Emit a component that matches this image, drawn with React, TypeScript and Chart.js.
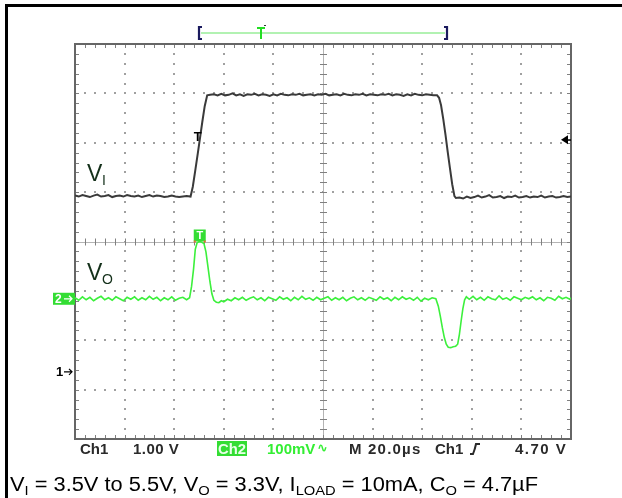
import React, { useEffect, useRef } from "react";
import { Chart, registerables } from "chart.js";

Chart.register(...registerables);

// ---- Data (time in µs, Ch1 in volts, Ch2 in mV) ----
const viTimeUs = [
  0, 1.5, 3, 4.5, 6, 7.5, 9, 10.5, 12, 13.5, 15, 16.5, 18, 19.5, 21, 22.5, 24, 25.5, 27, 28.5, 30,
  31.5, 33, 34.5, 36, 37.5, 39, 40.5, 42, 43.5, 45, 46.6,
  47.5, 48.5, 49.5, 50.3, 51.3, 52.3, 53.3,
  54.5, 56, 57.5, 59, 60.5, 62, 63.5, 65, 66.5, 68, 69.5, 71, 72.5, 74, 75.5, 77, 78.5, 80, 81.5,
  83, 84.5, 86, 87.5, 89, 90.5, 92, 93.5, 95, 96.5, 98, 99.5, 101, 102.5, 104, 105.5, 107, 108.5,
  110, 111.5, 113, 114.5, 116, 117.5, 119, 120.5, 122, 123.5, 125, 126.5, 128, 129.5, 131, 132.5,
  134, 135.5, 137, 138.5, 140, 141.5, 143, 144.5, 146,
  146.8, 147.6, 148.5, 149.4, 150.3, 151.2, 152.1, 153, 153.6,
  155, 156.5, 158, 159.5, 161, 162.5, 164, 165.5, 167, 168.5, 170, 171.5, 173, 174.5, 176, 177.5,
  179, 180.5, 182, 183.5, 185, 186.5, 188, 189.5, 191, 192.5, 194, 195.5, 197, 198.5, 200,
];
const viVolts = [
  3.57, 3.55, 3.58, 3.56, 3.54, 3.57, 3.59, 3.55, 3.56, 3.58, 3.54, 3.56, 3.57, 3.55, 3.58, 3.56,
  3.55, 3.57, 3.54, 3.56, 3.58, 3.55, 3.57, 3.56, 3.54, 3.55, 3.57, 3.55, 3.54, 3.55, 3.56, 3.55,
  3.75, 4.08, 4.42, 4.7, 5.05, 5.38, 5.6,
  5.61, 5.62, 5.6, 5.63, 5.6, 5.61, 5.64, 5.6, 5.62, 5.59, 5.62, 5.61, 5.63, 5.6, 5.62, 5.61, 5.59,
  5.62, 5.6, 5.63, 5.61, 5.6, 5.62, 5.61, 5.63, 5.6, 5.61, 5.62, 5.6, 5.62, 5.61, 5.63, 5.6, 5.61,
  5.62, 5.6, 5.63, 5.61, 5.6, 5.62, 5.61, 5.63, 5.6, 5.62, 5.61, 5.6, 5.62, 5.61, 5.63, 5.6, 5.62,
  5.61, 5.59, 5.62, 5.6, 5.63, 5.61, 5.6, 5.62, 5.61, 5.6, 5.6,
  5.55, 5.4, 5.12, 4.8, 4.45, 4.12, 3.8, 3.56, 3.52,
  3.53, 3.51, 3.55, 3.52, 3.54, 3.57, 3.53, 3.55, 3.58, 3.53, 3.54, 3.56, 3.52, 3.55, 3.54, 3.57,
  3.53, 3.54, 3.56, 3.53, 3.55, 3.54, 3.57, 3.53, 3.55, 3.56, 3.53, 3.54, 3.56, 3.54, 3.55,
];

const voTimeUs = [
  0, 1.5, 3, 4.5, 6, 7.5, 9, 10.5, 12, 13.5, 15, 16.5, 18, 19.5, 21, 22.5, 24, 25.5, 27, 28.5, 30,
  31.5, 33, 34.5, 36, 37.5, 39, 40.5, 42, 43.5, 45, 46.2,
  47, 47.8, 48.5, 49.2, 50, 51, 52, 52.8, 53.6, 54.4, 55.2, 56, 57, 58, 59, 60, 61.5, 63, 64.5,
  66, 67.5, 69, 70.5, 72, 73.5, 75, 76.5, 78, 79.5, 81, 82.5, 84, 85.5, 87, 88.5, 90, 91.5, 93,
  94.5, 96, 97.5, 99, 100.5, 102, 103.5, 105, 106.5, 108, 109.5, 111, 112.5, 114, 115.5, 117,
  118.5, 120, 121.5, 123, 124.5, 126, 127.5, 129, 130.5, 132, 133.5, 135, 136.5, 138, 139.5, 141,
  142.5, 144, 145.5,
  146.5, 147.3, 148.1, 148.9, 149.7, 150.5, 151.5, 152.5, 153.5, 154.3, 155, 155.7, 156.4, 157.1,
  157.8,
  159, 160.5, 162, 163.5, 165, 166.5, 168, 169.5, 171, 172.5, 174, 175.5, 177, 178.5, 180, 181.5,
  183, 184.5, 186, 187.5, 189, 190.5, 192, 193.5, 195, 196.5, 198, 199.5, 200,
];
const voMilliVolts = [
  2, -3, 4, -2, 3, -4, 1, 5, -2, 2, -3, 4, 0, -4, 3, -1, 4, -3, 2, -2, 5, -1, 3, -4, 2, -2, 4, -3,
  1, 3, -2, 2,
  25, 60, 100, 113, 116, 115, 112, 95, 65, 35, 10, -3, -7, -8, -4, -6, -1, -4, 2,
  -2, 3, -3, 1, 4, -2, 2, -4, 3, 0, -3, 4, -1, 2, -4, 3, -2, 5, -1, 2, -3, 3, -2, 1, 4, -3, 2, -2,
  3, -4, 1, 4, -2, 2, -3, 3, 0, -3, 4, -1, 2, -4, 3, -2, 4, -1, 2, -3, 3, -5, 1, -2, 2, 0,
  -15, -35, -58, -78, -92, -98, -99, -97, -96, -92, -72, -45, -20, -2, 4,
  -1, 5, -2, 3, -3, 4, 0, -2, 6, -1, 2, -3, 4, 1, -2, 3, 0, 4, -2, 2, -4, 3, 1, -3, 5, 0, 3, -1, 2,
];

// scope settings
const timeSpanUs = [0, 200];
const ch1RangeV = [-1.36, 6.64];
const ch2RangeMv = [-284, 516];
const triggerTimeUs = 50.3;
const triggerLevelV = 4.7;

// readout texts
const readoutCh1 = "Ch1";
const readoutCh1Scale = "1.00 V";
const readoutCh2 = "Ch2";
const readoutCh2Scale = "100mV";
const readoutCh2Coupling = "\u223F";
const readoutTime = "M 20.0\u00B5s";
const readoutTrigSrc = "Ch1";
const readoutTrigLevel = "4.70 V";
const captionRuns: [string, boolean][] = [
  ["V", false],
  ["I", true],
  [" = 3.5V to 5.5V, V", false],
  ["O", true],
  [" = 3.3V, I", false],
  ["LOAD", true],
  [" = 10mA, C", false],
  ["O", true],
  [" = 4.7\u00B5F", false],
];

const graticulePlugin = {
  id: "graticule",
  beforeDatasetsDraw(chart: any) {
    const ctx = chart.ctx as CanvasRenderingContext2D;
    const { left, right, top, bottom } = chart.chartArea;
    const nx = 10, ny = 8, sub = 5;
    const dx = (right - left) / nx, dy = (bottom - top) / ny;
    const cx = left + 5 * dx, cy = top + 4 * dy;
    ctx.save();
    ctx.fillStyle = "#a0a0a0";
    for (let i = 1; i < nx; i++) {
      if (i === 5) continue;
      const x = Math.round(left + i * dx);
      for (let j = 1; j < ny * sub; j++) {
        const y = Math.round(top + (j * dy) / sub);
        ctx.fillRect(x - 1, y - 1, 2, 2);
      }
    }
    for (let j = 1; j < ny; j++) {
      if (j === 4) continue;
      const y = Math.round(top + j * dy);
      for (let i = 1; i < nx * sub; i++) {
        const x = Math.round(left + (i * dx) / sub);
        ctx.fillRect(x - 1, y - 1, 2, 2);
      }
    }
    ctx.strokeStyle = "#b4b4b4";
    ctx.lineWidth = 1;
    ctx.beginPath();
    ctx.moveTo(left, Math.round(cy) + 0.5);
    ctx.lineTo(right, Math.round(cy) + 0.5);
    ctx.moveTo(Math.round(cx) + 0.5, top);
    ctx.lineTo(Math.round(cx) + 0.5, bottom);
    ctx.stroke();
    ctx.strokeStyle = "#808080";
    ctx.beginPath();
    for (let i = 1; i < nx * sub; i++) {
      const x = Math.round(left + (i * dx) / sub) + 0.5;
      ctx.moveTo(x, cy - 3);
      ctx.lineTo(x, cy + 4);
      ctx.moveTo(x, top);
      ctx.lineTo(x, top + 4);
      ctx.moveTo(x, bottom);
      ctx.lineTo(x, bottom - 4);
    }
    for (let j = 1; j < ny * sub; j++) {
      const y = Math.round(top + (j * dy) / sub) + 0.5;
      ctx.moveTo(cx - 3, y);
      ctx.lineTo(cx + 4, y);
      ctx.moveTo(left, y);
      ctx.lineTo(left + 4, y);
      ctx.moveTo(right, y);
      ctx.lineTo(right - 4, y);
    }
    ctx.stroke();
    ctx.strokeStyle = "#666666";
    ctx.lineWidth = 2;
    ctx.strokeRect(left, top, right - left, bottom - top);
    ctx.restore();
  },
};

function spaced(ctx: CanvasRenderingContext2D, text: string, x: number, y: number, ls: number) {
  (ctx as any).letterSpacing = `${ls}px`;
  ctx.fillText(text, x, y);
  (ctx as any).letterSpacing = "0px";
}

const labelsPlugin = {
  id: "scopeLabels",
  afterDraw(chart: any) {
    const ctx = chart.ctx as CanvasRenderingContext2D;
    const { left, right, top, bottom } = chart.chartArea;
    const xs = chart.scales.x, y1 = chart.scales.y, y2 = chart.scales.y2;
    ctx.save();

    // outer table frame
    ctx.fillStyle = "#000";
    ctx.fillRect(5, 4, 622 - 5, 3);
    ctx.fillRect(5, 4, 3, 498 - 4);

    // record bracket on top
    const bL = left + 123, bR = left + 373, by = top - 11;
    ctx.strokeStyle = "#99ee99";
    ctx.lineWidth = 1.5;
    ctx.beginPath();
    ctx.moveTo(bL + 3, by);
    ctx.lineTo(bR - 3, by);
    ctx.stroke();
    ctx.strokeStyle = "#1a1a5e";
    ctx.lineWidth = 2.2;
    ctx.beginPath();
    ctx.moveTo(bL + 4, by - 6);
    ctx.lineTo(bL + 1, by - 6);
    ctx.lineTo(bL + 1, by + 6);
    ctx.lineTo(bL + 4, by + 6);
    ctx.moveTo(bR - 4, by - 6);
    ctx.lineTo(bR - 1, by - 6);
    ctx.lineTo(bR - 1, by + 6);
    ctx.lineTo(bR - 4, by + 6);
    ctx.stroke();
    const tX = left + 186;
    ctx.strokeStyle = "#22dd22";
    ctx.lineWidth = 2;
    ctx.beginPath();
    ctx.moveTo(tX - 4, by - 5);
    ctx.lineTo(tX + 4, by - 5);
    ctx.moveTo(tX, by - 5);
    ctx.lineTo(tX, by + 6);
    ctx.stroke();
    ctx.fillStyle = "#333";
    ctx.fillRect(tX + 3, by - 8, 2, 1);

    // trigger point T on Ch1 trace
    const tpx = xs.getPixelForValue(triggerTimeUs);
    const tpy = y1.getPixelForValue(triggerLevelV);
    ctx.fillStyle = "#000";
    ctx.font = "bold 13px 'Liberation Sans', Arial, sans-serif";
    ctx.textAlign = "center";
    ctx.textBaseline = "middle";
    ctx.fillText("T", tpx - 2, tpy - 2);

    // trigger level arrow (right edge)
    ctx.beginPath();
    ctx.moveTo(right - 10, tpy);
    ctx.lineTo(right - 3, tpy - 4.5);
    ctx.lineTo(right - 3, tpy + 4.5);
    ctx.closePath();
    ctx.fill();
    ctx.fillRect(right - 4, tpy - 0.5, 4, 1.5);

    // green trigger-position T box on centre line
    const cy = (top + bottom) / 2;
    ctx.fillStyle = "#33dd33";
    ctx.fillRect(tpx - 6, cy - 12, 12, 12);
    ctx.fillStyle = "#ffffff";
    ctx.font = "bold 11px 'Liberation Sans', Arial, sans-serif";
    ctx.fillText("T", tpx, cy - 5.5);
    ctx.fillStyle = "#e07030";
    ctx.fillRect(tpx - 6, cy - 1, 2, 2);
    ctx.fillRect(tpx + 4, cy - 1, 2, 2);

    // channel ground markers
    const g2 = y2.getPixelForValue(0);
    ctx.fillStyle = "#33dd33";
    ctx.fillRect(left - 22, g2 - 6, 22, 12);
    ctx.fillStyle = "#ffffff";
    ctx.font = "bold 12px 'Liberation Sans', Arial, sans-serif";
    ctx.textAlign = "left";
    ctx.fillText("2", left - 20, g2 + 0.5);
    ctx.strokeStyle = "#ffffff";
    ctx.lineWidth = 1.2;
    ctx.beginPath();
    ctx.moveTo(left - 11, g2);
    ctx.lineTo(left - 3, g2);
    ctx.moveTo(left - 6, g2 - 3);
    ctx.lineTo(left - 3, g2);
    ctx.lineTo(left - 6, g2 + 3);
    ctx.stroke();

    const g1 = y1.getPixelForValue(0);
    ctx.fillStyle = "#000";
    ctx.font = "bold 13px 'Liberation Sans', Arial, sans-serif";
    ctx.fillText("1", left - 19, g1 + 0.5);
    ctx.strokeStyle = "#000";
    ctx.beginPath();
    ctx.moveTo(left - 11, g1);
    ctx.lineTo(left - 3, g1);
    ctx.moveTo(left - 6, g1 - 3);
    ctx.lineTo(left - 3, g1);
    ctx.lineTo(left - 6, g1 + 3);
    ctx.stroke();

    // trace labels V_I and V_O
    const lx = left + 12;
    ctx.fillStyle = "#14301a";
    ctx.textBaseline = "alphabetic";
    ctx.font = "23px 'Liberation Sans', Arial, sans-serif";
    ctx.fillText("V", lx, top + 137);
    ctx.fillText("V", lx, top + 236);
    ctx.font = "14px 'Liberation Sans', Arial, sans-serif";
    ctx.fillText("I", lx + 15, top + 141);
    ctx.fillText("O", lx + 15, top + 240);

    // readout line under graticule
    const ry = bottom + 15;
    ctx.font = "bold 15px 'Liberation Sans', Arial, sans-serif";
    ctx.fillStyle = "#2a2a2a";
    ctx.textAlign = "left";
    ctx.fillText(readoutCh1, left + 5, ry);
    spaced(ctx, readoutCh1Scale, left + 58, ry, 0.5);
    ctx.fillStyle = "#33dd33";
    ctx.fillRect(left + 142, bottom + 2, 30, 15);
    ctx.fillStyle = "#e8ffe8";
    ctx.fillText(readoutCh2, left + 143, ry, 28);
    ctx.fillStyle = "#33ee33";
    ctx.fillText(readoutCh2Scale, left + 192, ry);
    ctx.font = "bold 13px 'DejaVu Sans', sans-serif";
    ctx.fillText(readoutCh2Coupling, left + 242, ry - 2);
    ctx.font = "bold 15px 'Liberation Sans', Arial, sans-serif";
    ctx.fillStyle = "#2a2a2a";
    spaced(ctx, readoutTime, left + 274, ry, 1.2);
    ctx.fillText(readoutTrigSrc, left + 360, ry);
    spaced(ctx, readoutTrigLevel, left + 440, ry, 1.5);
    // rising-edge slope symbol
    ctx.strokeStyle = "#2a2a2a";
    ctx.lineWidth = 2;
    ctx.beginPath();
    ctx.moveTo(left + 395, ry);
    ctx.lineTo(left + 398, ry);
    ctx.quadraticCurveTo(left + 400, ry - 5, left + 401, ry - 10);
    ctx.lineTo(left + 405, ry - 10);
    ctx.stroke();

    // caption
    const capFont = 20;
    const subFont = 13.5;
    const capLeft = 10, capRight = 538, capBase = 491;
    let total = 0;
    for (const [t, s] of captionRuns) {
      ctx.font = `${s ? subFont : capFont}px 'Liberation Sans', Arial, sans-serif`;
      total += ctx.measureText(t).width;
    }
    const k = (capRight - capLeft) / total;
    ctx.fillStyle = "#000";
    ctx.textAlign = "left";
    ctx.translate(capLeft, capBase);
    ctx.scale(k, 1);
    let px = 0;
    for (const [t, s] of captionRuns) {
      ctx.font = `${s ? subFont : capFont}px 'Liberation Sans', Arial, sans-serif`;
      ctx.fillText(t, px, s ? 4 : 0);
      px += ctx.measureText(t).width;
    }
    ctx.restore();
  },
};

export default function App() {
  const ref = useRef<HTMLCanvasElement>(null);
  useEffect(() => {
    if (!ref.current) return;
    const chart = new Chart(ref.current, {
      type: "scatter",
      data: {
        datasets: [
          {
            label: "VI",
            data: viTimeUs.map((t, i) => ({ x: t, y: viVolts[i] })),
            showLine: true,
            borderColor: "#3a3a3a",
            borderWidth: 2,
            pointRadius: 0,
            tension: 0,
            yAxisID: "y",
          },
          {
            label: "VO",
            data: voTimeUs.map((t, i) => ({ x: t, y: voMilliVolts[i] })),
            showLine: true,
            borderColor: "#3cf03c",
            borderWidth: 1.6,
            pointRadius: 0,
            tension: 0,
            yAxisID: "y2",
          },
        ],
      },
      options: {
        responsive: false,
        animation: false,
        layout: { padding: { left: 75, right: 51, top: 44, bottom: 59 } },
        plugins: { legend: { display: false }, tooltip: { enabled: false } },
        scales: {
          x: { type: "linear", min: timeSpanUs[0], max: timeSpanUs[1], display: false },
          y: { type: "linear", min: ch1RangeV[0], max: ch1RangeV[1], display: false },
          y2: { type: "linear", min: ch2RangeMv[0], max: ch2RangeMv[1], display: false },
        },
      },
      plugins: [graticulePlugin, labelsPlugin],
    });
    return () => chart.destroy();
  }, []);
  return (
    <div style={{ position: "absolute", left: 0, top: 0, width: 622, height: 498, background: "#fff" }}>
      <canvas ref={ref} width={622} height={498} style={{ display: "block" }} />
    </div>
  );
}
